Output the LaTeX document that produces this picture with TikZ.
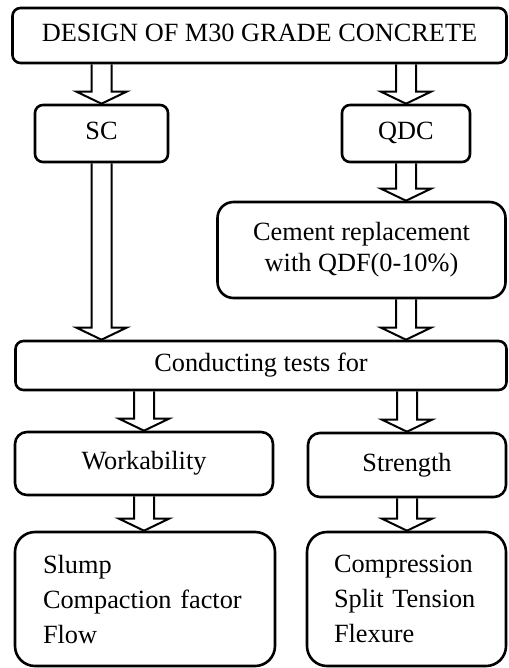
\documentclass[tikz,border=0pt]{standalone}
\usepackage{fontspec}
\setmainfont{Liberation Serif}
\usepackage{tikz}
\usetikzlibrary{positioning,calc}

% hollow block arrow: from node, to node, column node
\newcommand{\blockarrow}[3]{%
  \draw[hollow] ($(#1.south -| #3)+(-10,0)$) -- ($(#2.north -| #3)+(-10,12)$)
    -- ++(-15,0) -- (#2.north -| #3) -- ++(25,12) -- ++(-15,0)
    -- ($(#1.south -| #3)+(10,0)$);}

\begin{document}
\begin{tikzpicture}[
    x=1pt, y=1pt,
    box/.style={draw, rectangle, rounded corners=8pt, line width=2.6pt, align=center, inner sep=0pt, font=\fontsize{26.3}{31}\selectfont},
    listbox/.style={box, rounded corners=20pt, align=left, text width=204pt, inner xsep=28pt, minimum height=134pt, font=\fontsize{26.3}{35}\selectfont},
    hollow/.style={line width=2pt, line join=miter}
]
\useasboundingbox (0,0) rectangle (508,-668);

% Top row
\node[box, minimum width=494pt, minimum height=55pt] (design) at (259.5,-35.5) {\strut DESIGN OF M30 GRADE CONCRETE};

\node[box, minimum width=133pt, minimum height=57pt] (sc) at (101.5,-133.5) {\strut SC};
\node[box, minimum width=128pt, minimum height=57pt] (qdc) at (406,-133.5) {\strut QDC};

\node[box, rounded corners=16pt, minimum width=288pt, minimum height=96pt] (cement) at (361.5,-250) {Cement replacement\\with QDF(0-10\%)};

% Tests
\node[box, minimum width=491pt, minimum height=49pt] (conduct) at (261,-365.5) {\strut Conducting tests for};

\node[box, rounded corners=12pt, minimum width=258pt, minimum height=63pt] (work) at (144,-463.5) {\strut Workability};
\node[box, rounded corners=12pt, minimum width=198pt, minimum height=64pt] (strength) at (407,-465) {\strut Strength};

\node[listbox] (worklist) at (145,-599) {Slump\\Compaction factor\\Flow};
\node[listbox, text width=145pt, inner xsep=27pt] (strengthlist) at (406.5,-599) {Compression\\Split Tension\\Flexure};

% Arrows
\blockarrow{design}{sc}{sc}
\blockarrow{design}{qdc}{qdc}
\blockarrow{qdc}{cement}{qdc}
\blockarrow{sc}{conduct}{sc}
\blockarrow{cement}{conduct}{qdc}
\blockarrow{conduct}{work}{work}
\blockarrow{conduct}{strength}{strength}
\blockarrow{work}{worklist}{work}
\blockarrow{strength}{strengthlist}{strength}

\end{tikzpicture}
\end{document}
